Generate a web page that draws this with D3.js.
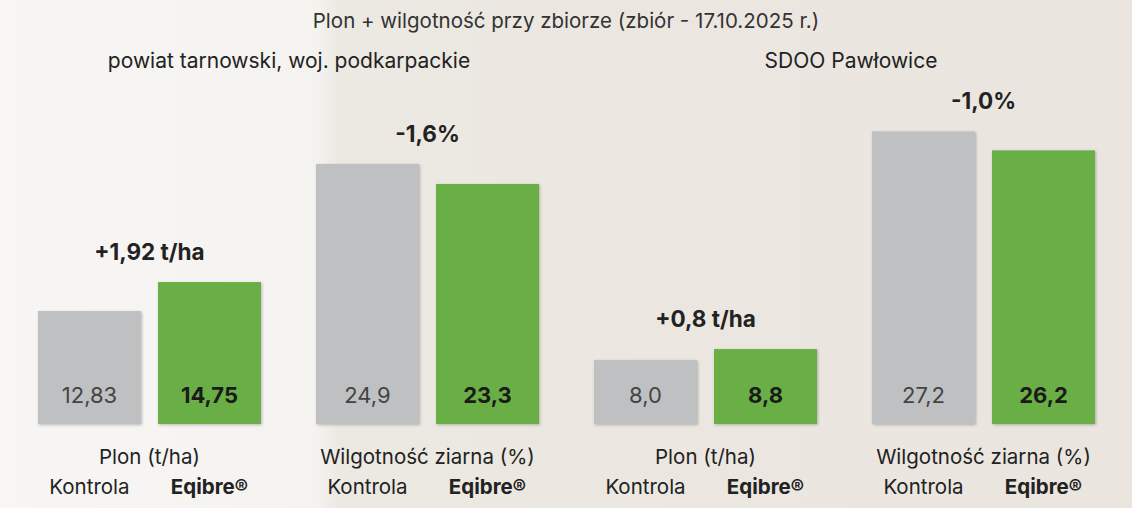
<!DOCTYPE html><html><head><meta charset="utf-8"><script src="https://cdn.jsdelivr.net/npm/d3@7"></script>
<style>body{margin:0}svg{display:block;font-family:Inter,"Open Sans",sans-serif}</style></head><body><svg id="c" width="1132" height="508"></svg>
<script>
const title="Plon + wilgotność przy zbiorze (zbiór - 17.10.2025 r.)";
const locations=["powiat tarnowski, woj. podkarpackie","SDOO Pawłowice"];
const groups=["Plon (t/ha)","Wilgotność ziarna (%)","Plon (t/ha)","Wilgotność ziarna (%)"];
const kontrola=[12.83,24.9,8.0,27.2];
const eqibre=[14.75,23.3,8.8,26.2];
const labelsK=["12,83","24,9","8,0","27,2"];
const labelsE=["14,75","23,3","8,8","26,2"];
const diffs=["+1,92 t/ha","-1,6%","+0,8 t/ha","-1,0%"];
const baseVals=[5.35,4.1,3.35,11.8];
const scaleFactor=[15.1,12.5,13.75,19];

const svg=d3.select("#c");
const defs=svg.append("defs");
const g=defs.append("linearGradient").attr("id","bg").attr("x1",0).attr("x2",1);
g.append("stop").attr("offset","0").attr("stop-color","#f7f6f4");
g.append("stop").attr("offset","0.28").attr("stop-color","#f4f3f0");
g.append("stop").attr("offset","0.3").attr("stop-color","#ece8e2");
g.append("stop").attr("offset","1").attr("stop-color","#eae5de");
const f=defs.append("filter").attr("id","sh");
f.append("feDropShadow").attr("dx",1).attr("dy",1).attr("stdDeviation",1.5).attr("flood-opacity",0.25);
svg.append("rect").attr("width",1132).attr("height",508).attr("fill","url(#bg)");

const bottom=424;
const xg=d3.scaleBand().domain(d3.range(4)).range([38,1095]).paddingInner(0.198).paddingOuter(0);
const xs=d3.scaleBand().domain(["K","E"]).range([0,xg.bandwidth()]).paddingInner(0.142);
svg.append("text").attr("x",566).attr("y",28).attr("text-anchor","middle").attr("font-size",20.5).attr("fill","#333").text(title);
svg.append("text").attr("x",289).attr("y",68).attr("text-anchor","middle").attr("font-size",21).attr("fill","#222").text(locations[0]);
svg.append("text").attr("x",851).attr("y",68).attr("text-anchor","middle").attr("font-size",21).attr("fill","#222").text(locations[1]);
for(let i=0;i<4;i++){
  const y=d3.scaleLinear().domain([baseVals[i],baseVals[i]+100/scaleFactor[i]]).range([bottom,bottom-100]);
  const gx=xg(i);
  const data=[{k:"K",v:kontrola[i],l:labelsK[i],c:"#bfc0c2",b:false},{k:"E",v:eqibre[i],l:labelsE[i],c:"#6aaf44",b:true}];
  data.forEach(d=>{
    const x=gx+xs(d.k);
    svg.append("rect").attr("x",x).attr("y",y(d.v)).attr("width",xs.bandwidth()).attr("height",bottom-y(d.v)).attr("fill",d.c).attr("filter","url(#sh)");
    svg.append("text").attr("x",x+xs.bandwidth()/2).attr("y",403).attr("text-anchor","middle").attr("font-size",22).attr("font-weight",d.b?700:400).attr("fill",d.b?"#1a1a1a":"#444").text(d.l);
  });
  const top=Math.min(y(kontrola[i]),y(eqibre[i]));
  svg.append("text").attr("x",gx+xg.bandwidth()/2).attr("y",top-22).attr("text-anchor","middle").attr("font-size",22.5).attr("font-weight",700).attr("fill","#222").text(diffs[i]);
  svg.append("text").attr("x",gx+xg.bandwidth()/2).attr("y",464).attr("text-anchor","middle").attr("font-size",20.5).attr("fill","#222").text(groups[i]);
  svg.append("text").attr("x",gx+xs("K")+xs.bandwidth()/2).attr("y",494).attr("text-anchor","middle").attr("font-size",20.5).attr("fill","#222").text("Kontrola");
  svg.append("text").attr("x",gx+xs("E")+xs.bandwidth()/2).attr("y",494).attr("text-anchor","middle").attr("font-size",20.5).attr("font-weight",700).attr("fill","#222").text("Eqibre®");
}
</script></body></html>
